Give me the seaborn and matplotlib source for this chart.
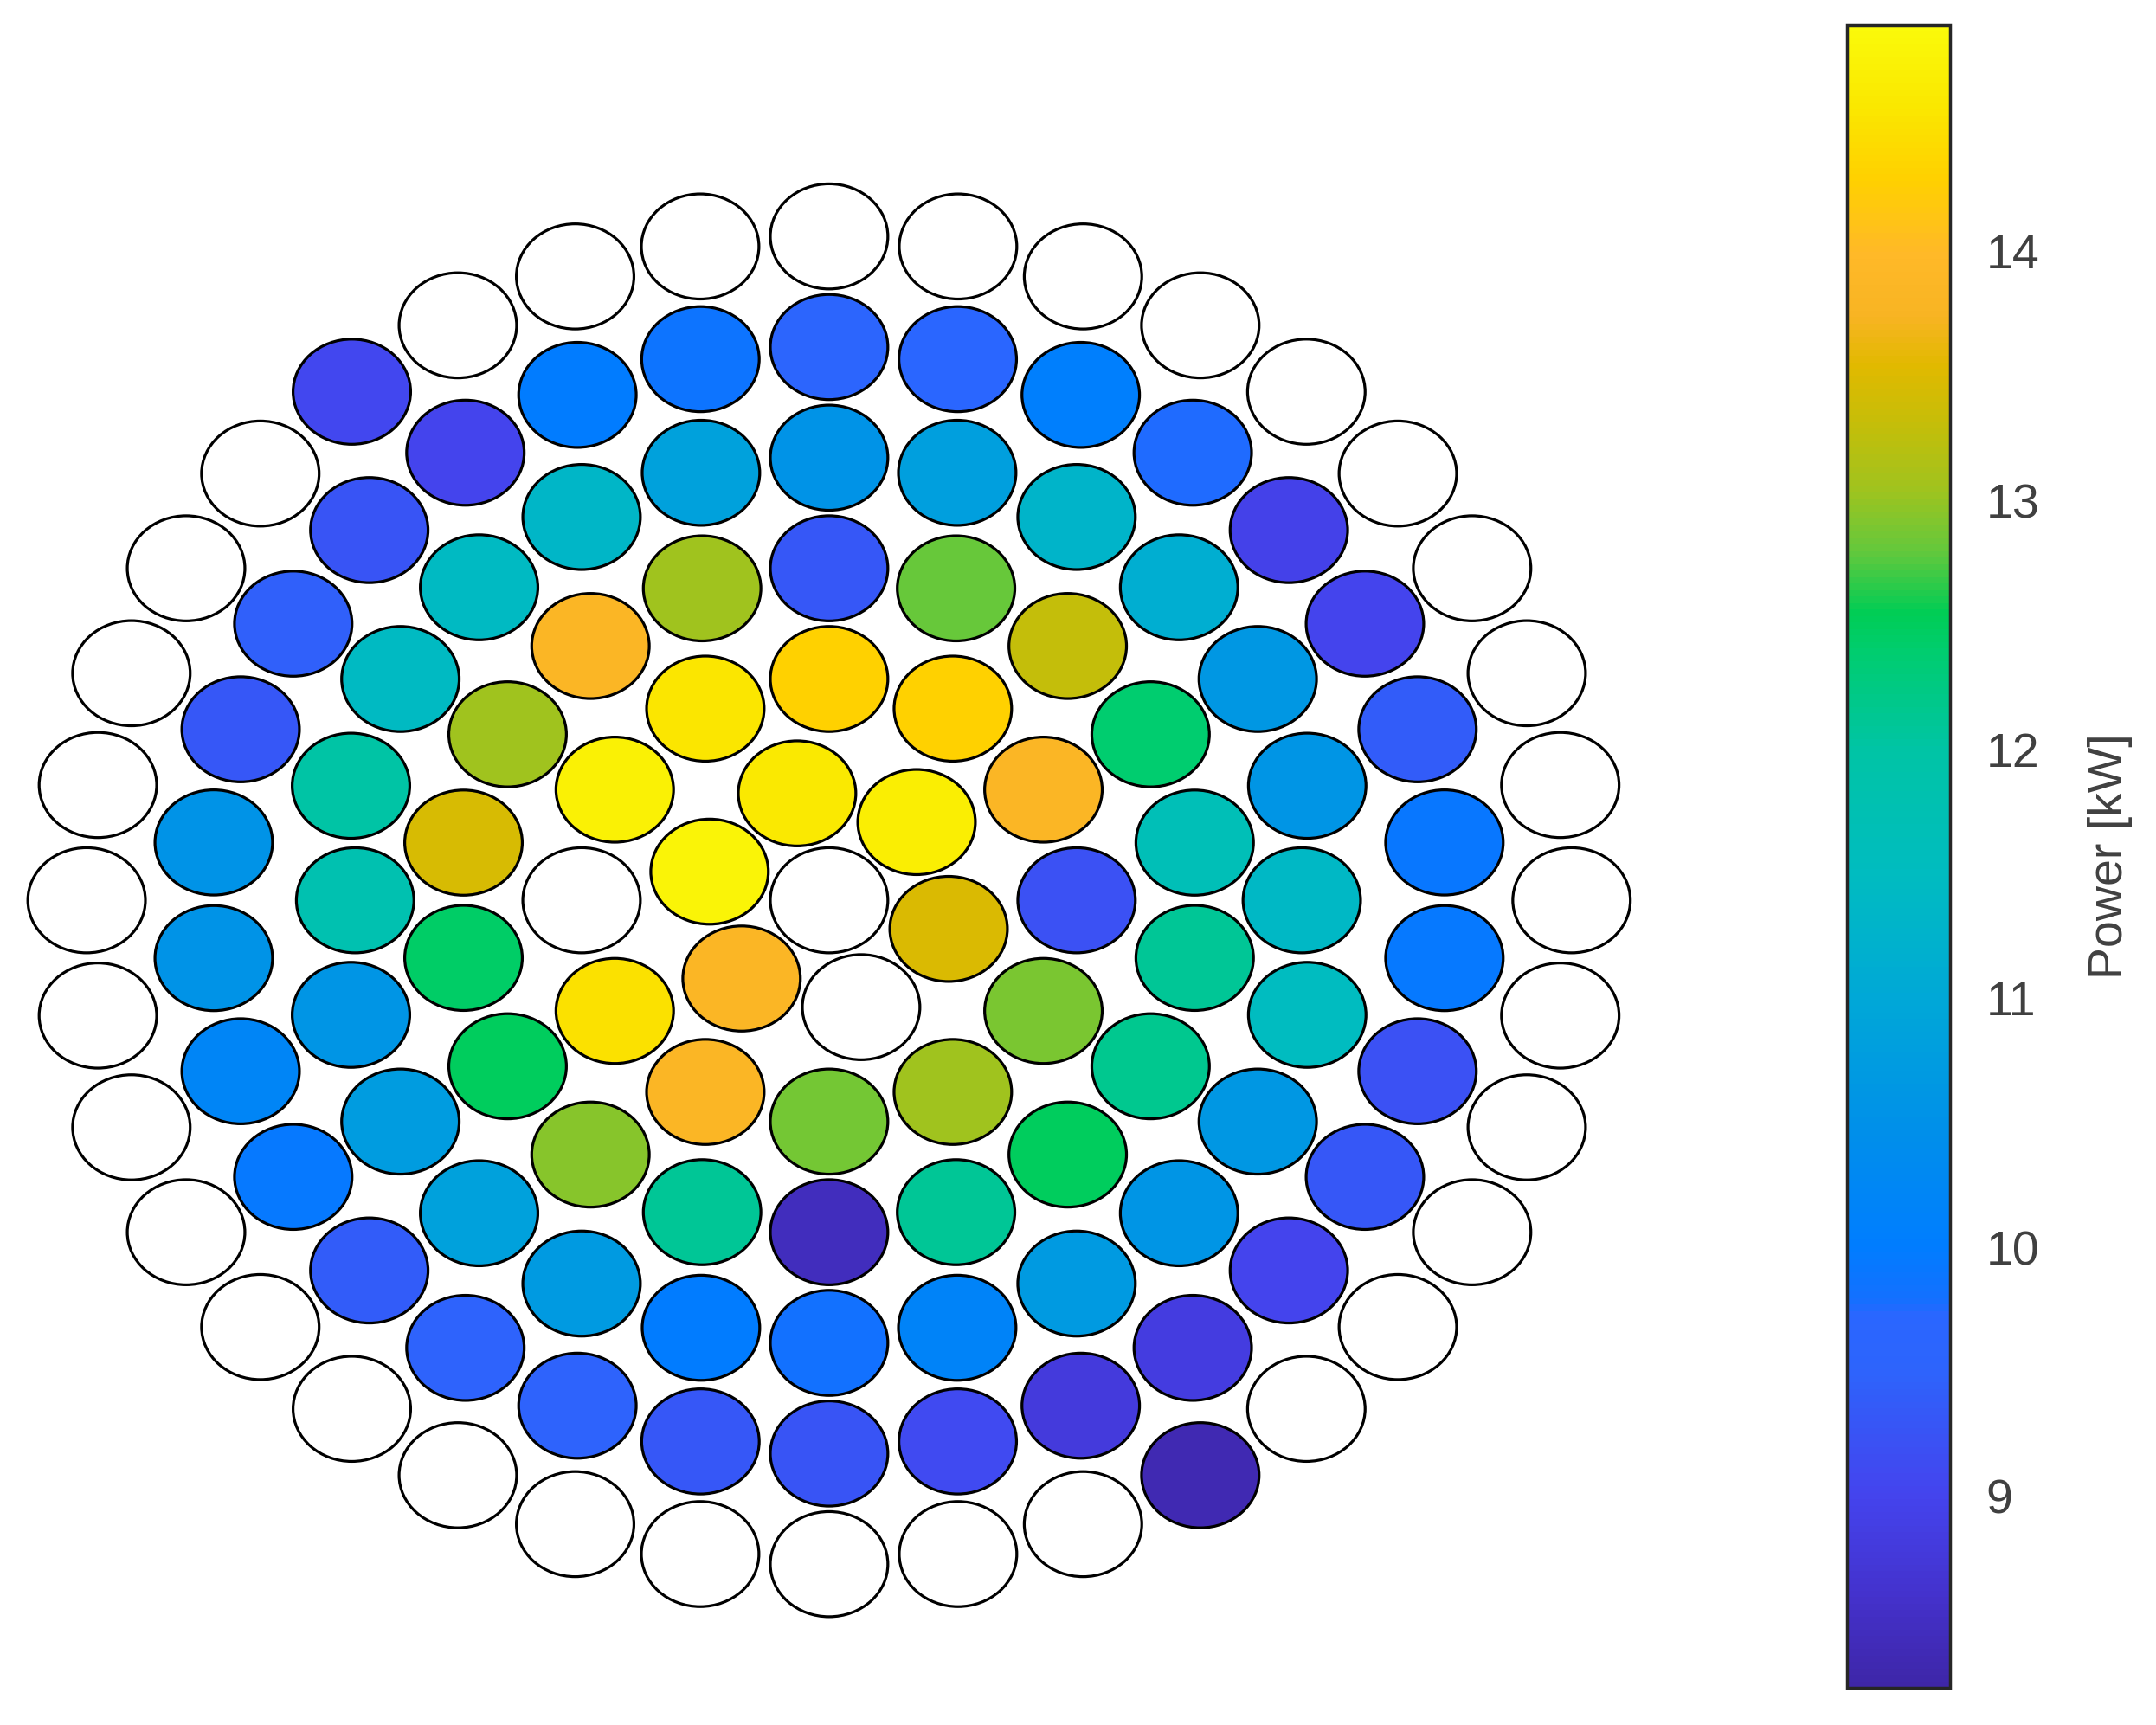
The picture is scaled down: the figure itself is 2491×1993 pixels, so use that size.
import numpy as np
import matplotlib
matplotlib.use("Agg")
import matplotlib.pyplot as plt
import seaborn as sns
from matplotlib.patches import Circle
from matplotlib.collections import PatchCollection
from matplotlib.colors import LinearSegmentedColormap, Normalize
from matplotlib.cm import ScalarMappable

nan = np.nan

# power per rod, ring by ring (counter-clockwise from each ring's start angle), nan = empty
ring0 = [nan]
ring1 = [14.7, 14.6, 14.8, 13.85, nan, 13.5]
ring2 = [9.2, 13.85, 14.3, 14.3, 14.55, 14.75, nan, 14.5, 13.85, 12.85, 13.05, 12.9]
ring3 = [11.65, 12.4, 13.3, 12.8, 9.3, 13.05, 13.85, 13.05, 13.45,
         12.45, 12.5, 12.95, 12.1, 8.45, 12.1, 12.5, 12.15, 12.1]
ring4 = [11.4, 10.6, 10.65, 11.15, 11.3, 10.8, 10.55, 10.85, 11.35, 11.45, 11.45, 12.0,
         11.8, 10.6, 10.75, 10.85, 10.7, 10.0, 9.8, 10.15, 10.7, 10.6, 10.65, 11.5]
ring5 = [9.9, 9.4, 9.0, 8.95, 9.75, 10.05, 9.7, 9.6, 9.85, 10.0, 9.0, 9.25, 9.45, 9.3, 10.55,
         10.55, 10.2, 9.95, 9.4, 9.5, 9.5, 9.3, 9.25, 9.1, 8.8, 8.85, 9.0, 9.3, 9.2, 9.95]
ring6 = [nan] * 36
ring6[13] = 9.05
ring6[30] = 8.35

rings = [ring0, ring1, ring2, ring3, ring4, ring5, ring6]
ring_start_deg = [0, 45, 0, 10, 0, 6, 0]
# two rods of ring 4 sit slightly inward
radius_fix = {(4, 0): 3.82, (4, 12): 3.83}

cbar_ticks = [9, 10, 11, 12, 13, 14]
cbar_label = "Power [kW]"
vmin, vmax = 8.23, 14.91

# colour stops
stop_values = [8.23, 8.6, 9.0, 9.5, 9.72, 9.78, 10.0, 10.5, 11.0, 11.5, 12.0, 12.4, 12.55,
               12.8, 13.05, 13.3, 13.55, 13.75, 14.0, 14.3, 14.6, 14.91]
stop_colors = ["#3e26a8", "#4432cd", "#4444ee", "#2d64fc", "#2a66ff", "#1470ff", "#007dff",
               "#0091e8", "#00a8d7", "#00bcc0", "#00c4a5", "#00cd6e", "#00cd55",
               "#64c83c", "#a0c31e", "#c3be0a", "#e1b900", "#f8b423", "#ffb928",
               "#ffd000", "#fae800", "#fafa0a"]

sns.set_theme(style="white")
plt.rcParams["font.family"] = ["Liberation Sans", "DejaVu Sans"]

cmap = LinearSegmentedColormap.from_list(
    "power", [((v - vmin) / (vmax - vmin), c) for v, c in zip(stop_values, stop_colors)])
cmap.set_bad("white")
norm = Normalize(vmin=vmin, vmax=vmax)

fig = plt.figure(figsize=(24.91, 19.93), dpi=100)
ax = fig.add_axes([0.0, 0.0291, 0.7691, 0.898])

patches, vals = [], []
for k, ring in enumerate(rings):
    step = 360.0 / len(ring)
    for i, v in enumerate(ring):
        a = np.deg2rad(ring_start_deg[k] + i * step)
        r = radius_fix.get((k, i), k)
        patches.append(Circle((r * np.cos(a), r * np.sin(a)), 0.475))
        vals.append(v)

pc = PatchCollection(patches, cmap=cmap, norm=norm, edgecolor="black", linewidth=2.3)
pc.set_array(np.ma.masked_invalid(vals))
ax.add_collection(pc)
ax.set_xlim(-6.7, 6.7)
ax.set_ylim(-7, 7)
ax.set_aspect("auto")
ax.axis("off")

cax = fig.add_axes([0.8565, 0.0215, 0.0478, 0.9641])
cb = fig.colorbar(ScalarMappable(norm=norm, cmap=cmap), cax=cax)
cb.set_ticks(cbar_ticks)
cb.outline.set_linewidth(2.5)
cb.outline.set_edgecolor("#262626")
cax.tick_params(axis="y", direction="in", length=12, width=2.5, color="#262626",
                labelsize=40, labelcolor="#404040", pad=30)
cb.set_label(cbar_label, fontsize=40, color="#404040", labelpad=40)

fig.savefig("out.png", dpi=100, facecolor="white")
